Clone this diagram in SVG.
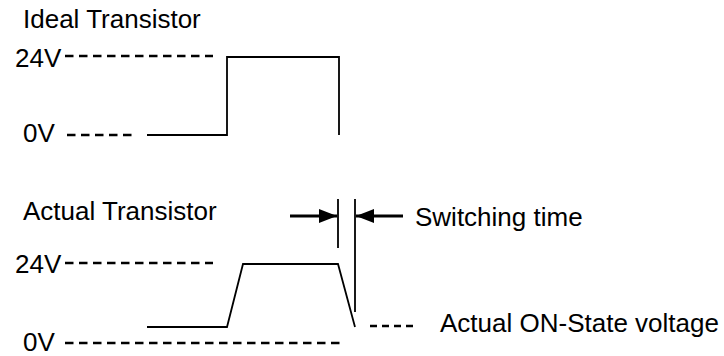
<svg xmlns="http://www.w3.org/2000/svg" width="724" height="356" viewBox="0 0 724 356">
<style>
text{font-family:"Liberation Sans",Arial,sans-serif;font-size:26px;fill:#000}
.w{fill:none;stroke:#000;stroke-width:1.8}
.d{fill:none;stroke:#000;stroke-width:2.6;stroke-dasharray:8.5 5.5}
.d2{fill:none;stroke:#000;stroke-width:2.6;stroke-dasharray:7 5}
.a{stroke:#000;stroke-width:2.8}
</style>
<defs>
<marker id="ah" viewBox="0 0 18 14" refX="18" refY="7" markerWidth="18" markerHeight="14" markerUnits="userSpaceOnUse" orient="auto">
<path d="M0,0 L18,7 L0,14 z" fill="#000"/>
</marker>
</defs>
<g id="ideal">
<text x="23" y="28">Ideal Transistor</text>
<text x="15" y="67">24V</text>
<text x="23" y="142">0V</text>
<line class="d" x1="65" y1="56" x2="213" y2="56"/>
<line class="d" x1="67" y1="135" x2="133" y2="135"/>
<polyline class="w" points="147,135 227,135 227,57 339,57 339,135"/>
</g>
<g id="actual">
<text x="23" y="220">Actual Transistor</text>
<text x="15" y="273">24V</text>
<text x="23" y="351">0V</text>
<line class="d" x1="65" y1="263" x2="213" y2="263"/>
<line class="d" x1="65" y1="343" x2="341" y2="343"/>
<polyline class="w" points="147,327 227,327 243,264 338,264 355,327"/>
</g>
<g id="switching">
<line class="w" x1="338" y1="199" x2="338" y2="248"/>
<line class="w" x1="355" y1="199" x2="355" y2="312"/>
<text x="415" y="226">Switching time</text>
</g>
<g id="onstate">
<line class="d2" x1="370" y1="326" x2="413" y2="326"/>
<text x="440" y="332">Actual ON-State voltage</text>
</g>
<g id="connectors">
<line class="a" x1="290" y1="216" x2="337" y2="216" marker-end="url(#ah)"/>
<line class="a" x1="403" y1="216" x2="356" y2="216" marker-end="url(#ah)"/>
</g>
</svg>
